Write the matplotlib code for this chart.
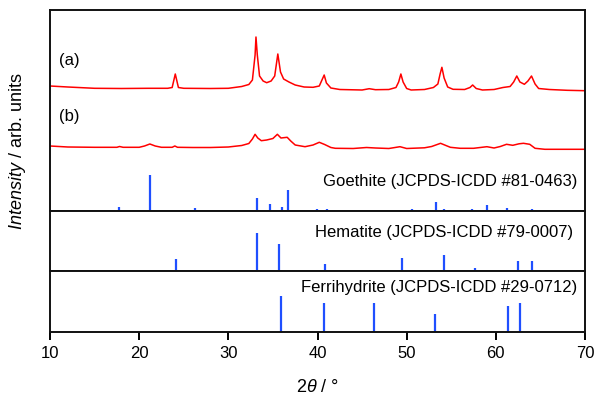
import numpy as np
import matplotlib
matplotlib.use('Agg')
import matplotlib.pyplot as plt

plt.rcParams['font.family'] = ['Liberation Sans', 'DejaVu Sans']
plt.rcParams['mathtext.fontset'] = 'custom'
plt.rcParams['mathtext.it'] = 'Liberation Sans:italic'
plt.rcParams['mathtext.rm'] = 'Liberation Sans'

# Patron (a): 2theta y intensidad (unidades arbitrarias)
tt_a = [10.0, 12.0, 15.0, 18.0, 21.0, 23.2, 23.7, 24.05, 24.4, 25.0, 28.0, 30.0,
        31.5, 32.3, 32.7, 33.0, 33.1, 33.25, 33.5, 33.9, 34.3, 34.8, 35.2, 35.55,
        35.85, 36.2, 36.8, 37.5, 38.5, 39.5, 40.2, 40.5, 40.75, 41.0, 41.5, 42.5,
        45.0, 45.8, 46.5, 48.0, 48.8, 49.1, 49.35, 49.6, 50.0, 50.5, 52.0, 53.0,
        53.5, 53.75, 53.95, 54.2, 54.6, 55.2, 56.5, 57.1, 57.4, 57.8, 58.5, 59.8,
        60.8, 61.6, 62.0, 62.35, 62.7, 63.2, 63.6, 64.0, 64.4, 64.8, 66.0, 68.0, 70.0]
int_a = [125.0, 124.0, 122.7, 122.5, 122.7, 122.7, 123.5, 137.0, 123.5, 122.7, 122.5, 122.7,
         124.5, 126.5, 131.0, 156.0, 174.0, 156.0, 135.0, 130.0, 128.3, 130.0, 135.0, 157.0,
         139.0, 132.0, 129.0, 126.0, 124.0, 123.7, 125.0, 131.0, 136.0, 128.0, 123.0, 121.5,
         121.0, 122.3, 121.3, 121.5, 123.5, 129.0, 137.0, 129.0, 122.5, 121.0, 121.5, 123.5,
         127.0, 137.0, 143.7, 133.0, 124.0, 121.7, 121.5, 123.5, 126.0, 122.5, 121.0, 121.5,
         123.5, 124.5, 129.0, 135.0, 129.0, 126.7, 130.0, 135.0, 127.0, 122.5, 121.5, 120.7, 120.3]

# Patron (b)
tt_b = [10.0, 12.0, 15.0, 17.5, 17.8, 18.2, 20.0, 20.6, 21.2, 21.8, 22.5, 23.7, 24.0,
        24.3, 26.0, 28.0, 30.0, 31.5, 32.3, 32.7, 33.0, 33.3, 33.7, 34.3, 35.0, 35.5,
        35.9, 36.6, 37.0, 37.5, 38.6, 39.5, 40.2, 40.8, 41.5, 42.0, 44.0, 45.5, 46.5,
        48.0, 49.25, 50.0, 52.0, 52.8, 53.8, 54.4, 54.9, 56.0, 57.5, 59.0, 59.8, 60.5,
        61.2, 61.9, 62.6, 63.1, 63.8, 64.4, 65.5, 70.0]
int_b = [65.0, 64.0, 63.7, 63.7, 64.5, 63.7, 63.7, 65.0, 67.0, 65.0, 63.7, 63.7, 65.0,
         63.7, 63.5, 63.5, 64.0, 65.5, 67.5, 72.0, 76.7, 73.0, 70.3, 71.0, 72.5, 76.7,
         73.0, 73.7, 70.0, 66.0, 64.3, 66.0, 68.7, 66.5, 63.5, 62.7, 62.5, 63.5, 63.0,
         62.5, 64.3, 62.5, 63.2, 64.5, 67.7, 65.5, 63.7, 62.7, 62.7, 64.3, 63.0, 64.5,
         66.7, 65.7, 67.2, 67.7, 66.7, 62.7, 61.7, 61.7]

# Fichas de referencia (posicion, intensidad relativa)
goe_pos = [17.77, 21.18, 26.26, 33.21, 34.67, 36.05, 36.65, 39.9, 41.1, 50.56,
           53.25, 54.2, 57.3, 58.97, 61.3, 64.0]
goe_int = [4.0, 36.3, 2.7, 12.7, 7.0, 4.0, 20.7, 2.0, 2.0, 1.5,
           8.7, 2.0, 1.5, 6.0, 2.5, 1.5]

hem_pos = [24.17, 33.21, 35.65, 40.88, 49.51, 54.15, 57.66, 62.48, 64.09]
hem_int = [11.7, 37.7, 27.0, 6.7, 12.7, 15.7, 3.4, 9.7, 9.7]

fer_pos = [35.87, 40.77, 46.3, 53.2, 61.36, 62.75]
fer_int = [36.4, 29.0, 29.0, 17.7, 25.7, 29.0]

azul = '#1f4fff'
fs = 12

fig = plt.figure(figsize=(5.95, 3.99), dpi=100)
gs = fig.add_gridspec(3, 1, height_ratios=[201, 60, 61], hspace=0,
                      left=50/595, right=585/595, top=1-10/399, bottom=1-332/399)
ax1 = fig.add_subplot(gs[0])
ax2 = fig.add_subplot(gs[1], sharex=ax1)
ax3 = fig.add_subplot(gs[2], sharex=ax1)

ax1.plot(tt_a, int_a, color='red', lw=1.1)
ax1.plot(tt_b, int_b, color='red', lw=1.1)
ax1.vlines(goe_pos, 0, goe_int, color=azul, lw=1.6)
ax1.set_ylim(0, 201)
ax1.text(11.0, 151, '(a)', fontsize=fs, va='center', ha='left')
ax1.text(11.0, 95, '(b)', fontsize=fs, va='center', ha='left')
ax1.text(69.1, 29.3, 'Goethite (JCPDS-ICDD #81-0463)', fontsize=fs, va='center', ha='right')

ax2.vlines(hem_pos, 0, hem_int, color=azul, lw=1.6)
ax2.set_ylim(0, 60)
ax2.text(68.7, 38.3, 'Hematite (JCPDS-ICDD #79-0007)', fontsize=fs, va='center', ha='right')

ax3.vlines(fer_pos, 0, fer_int, color=azul, lw=1.6)
ax3.set_ylim(0, 61)
ax3.text(69.1, 44.3, 'Ferrihydrite (JCPDS-ICDD #29-0712)', fontsize=fs, va='center', ha='right')

ax3.set_xlim(10, 70)
ax3.set_xticks([10, 20, 30, 40, 50, 60, 70])

for ax in (ax1, ax2, ax3):
    ax.set_yticks([])
    for s in ax.spines.values():
        s.set_linewidth(1.4)
        s.set_color('#111111')
for ax in (ax1, ax2):
    ax.tick_params(axis='x', bottom=False, labelbottom=False)
ax3.tick_params(axis='x', direction='out', length=6, width=1.4, labelsize=fs, pad=4)

ax3.set_xlabel(r'2$\it{\theta}$ / °', fontsize=fs + 1, labelpad=13)
fig.text(18/595, 1 - 151/399, r'$\it{Intensity}$ / arb. units', fontsize=fs + 1,
         rotation=90, va='center', ha='center')

fig.savefig('out.png', dpi=100)
